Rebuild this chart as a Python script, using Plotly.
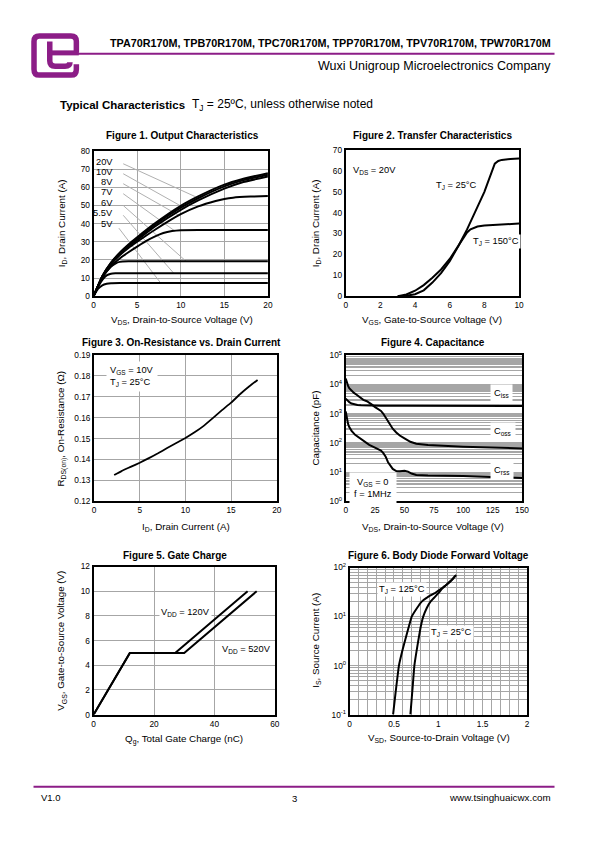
import plotly.graph_objects as go

FONT = "Liberation Sans, Arial, Helvetica, sans-serif"
W, H = 595, 842
PURPLE = "#8c1d87"
GRID = "#a6a6a6"

# ---------------- Figure 1: Output characteristics ----------------
f1_vds_a = [0, 1, 2, 3, 4, 5, 7, 10, 12, 15, 17, 20]
f1_id_20v = [0, 11, 18.5, 24, 28.5, 32.5, 40, 49.8, 55, 61.5, 64.5, 67.8]
f1_id_15v = [0, 11, 18.3, 23.7, 28, 31.8, 39.3, 48.8, 54, 60.5, 63.7, 67]
f1_id_10v = [0, 10.9, 18, 23.3, 27.5, 31, 38.3, 47.6, 52.8, 59.3, 62.7, 66]
f1_vds_8v = [0, 1, 2, 3, 4, 5, 7, 10, 12, 14, 15, 16, 18, 20]
f1_id_8v = [0, 10.8, 17.6, 22.6, 26.6, 30, 36.5, 45.2, 49.5, 52.5, 53.6, 54.3, 54.9, 55.2]
f1_vds_7v = [0, 1, 2, 3, 4, 5, 6, 7, 8, 9, 10, 12, 20]
f1_id_7v = [0, 10.5, 16.5, 20.8, 24.2, 27.3, 30.3, 32.8, 34.8, 35.9, 36.4, 36.5, 36.5]
f1_vds_6v = [0, 0.5, 1, 1.5, 2, 2.5, 3, 4, 20]
f1_id_6v = [0, 5.5, 10, 13.6, 16.3, 18, 18.9, 19.2, 19.3]
f1_vds_55v = [0, 0.5, 1, 1.5, 2, 2.5, 20]
f1_id_55v = [0, 5, 9, 11.5, 12.4, 12.6, 12.7]
f1_vds_5v = [0, 0.5, 1, 1.5, 2, 3, 20]
f1_id_5v = [0, 4, 6, 6.8, 7.1, 7.2, 7.3]
f1_labels = ["20V", "10V", "8V", "7V", "6V", "5.5V", "5V"]
f1_label_y = [74.2, 68.4, 62.7, 57.3, 51.5, 45.7, 39.7]
f1_leader_x0 = [3.4, 3.4, 3.4, 3.4, 3.4, 3.4, 2.9]
f1_leader_y0 = [73, 67.5, 62, 56.5, 50, 44.6, 37.5]
f1_leader_x1 = [11.7, 10.5, 9.8, 9.3, 10.6, 9.2, 7.7]
f1_leader_y1 = [54.8, 48.4, 44.5, 36, 19.3, 12.6, 7.2]

# ---------------- Figure 2: Transfer characteristics ----------------
f2_vgs_25 = [3, 3.5, 4, 4.5, 5, 5.5, 6, 6.5, 7, 7.5, 8, 8.2, 8.4, 8.5, 8.6, 8.8, 9, 9.5, 10]
f2_id_25 = [0, 0.2, 0.9, 2.8, 6.5, 11, 16.8, 24, 32, 41, 50, 54.5, 59.5, 62, 63.5, 64.8, 65.3, 65.7, 66]
f2_vgs_150 = [3, 3.5, 4, 4.5, 5, 5.5, 6, 6.5, 6.8, 7, 7.2, 7.4, 7.6, 8, 9, 10]
f2_id_150 = [0, 0.8, 2.6, 5.3, 8.8, 12.8, 17.8, 24, 28.2, 30.5, 32, 32.9, 33.4, 33.9, 34.4, 34.8]

# ---------------- Figure 3: On-resistance ----------------
f3_id = [2.2, 3, 4, 5, 6, 7, 8, 9, 10, 11, 12, 13, 14, 15, 16, 17, 17.9]
f3_rds = [0.1326, 0.1345, 0.1365, 0.1385, 0.1407, 0.1430, 0.1455, 0.1479, 0.1503,
          0.1530, 0.1561, 0.1598, 0.1636, 0.1672, 0.1713, 0.1750, 0.1780]

# ---------------- Figure 4: Capacitance ----------------
f4_vds_ciss = [0, 1, 2, 3, 5, 7, 10, 13, 16, 20, 30, 50, 100, 150]
f4_ciss = [3300, 3000, 2700, 2500, 2250, 2100, 2000, 1950, 1920, 1900, 1880, 1870, 1860, 1850]
f4_vds_coss = [0, 1, 2, 3, 5, 7, 9, 11, 13, 15, 18, 20, 22, 25, 28, 30, 32, 34, 36, 38, 40,
               43, 46, 50, 55, 60, 70, 100, 150]
f4_coss = [16000, 11000, 9000, 7500, 6000, 5200, 4600, 4000, 3300, 3000, 2700, 2450, 2100,
           1700, 1450, 1250, 1000, 750, 550, 400, 310, 230, 180, 145, 110, 95, 85, 75, 65]
f4_vds_crss = [0, 1, 2, 3, 5, 8, 10, 12, 16, 20, 24, 28, 30, 32, 34, 36, 38, 40, 43, 46, 50,
               53, 56, 60, 70, 100, 150]
f4_crss = [1200, 700, 450, 350, 260, 190, 165, 145, 110, 86, 72, 60, 55, 45, 34, 22, 16, 13,
           11, 10.8, 11.2, 10.5, 9, 8, 7.7, 7.4, 6.3]
f4_ytick_vals = [1, 10, 100, 1000, 10000, 100000]
f4_ytick_text = ["10<sup>0</sup>", "10<sup>1</sup>", "10<sup>2</sup>", "10<sup>3</sup>",
                 "10<sup>4</sup>", "10<sup>5</sup>"]

# ---------------- Figure 5: Gate charge ----------------
f5_qg_120 = [0, 12, 27, 51]
f5_vgs_120 = [0, 5, 5, 10]
f5_qg_520 = [0, 12, 30, 54]
f5_vgs_520 = [0, 5, 5, 10]

# ---------------- Figure 6: Body diode ----------------
f6_vsd_125 = [0.49, 0.52, 0.556, 0.6, 0.65, 0.70, 0.76, 0.81, 0.88, 0.96, 1.03, 1.09, 1.15, 1.2]
f6_is_125 = [0.1, 0.3, 1, 2.2, 4.8, 10, 15, 20, 25, 30, 37, 44, 55, 70]
f6_vsd_25 = [0.685, 0.71, 0.73, 0.77, 0.80, 0.83, 0.87, 0.91, 0.96, 1.0, 1.05, 1.11, 1.16, 1.2]
f6_is_25 = [0.1, 0.35, 1, 2.9, 6, 10, 15, 20, 25, 30, 38, 48, 58, 70]
f6_xtick_vals = [0, 0.5, 1, 1.5, 2]
f6_xtick_text = ["0", "0.5", "1", "1.5", "2"]
f6_ytick_vals = [0.1, 1, 10, 100]
f6_ytick_text = ["10<sup>-1</sup>", "10<sup>0</sup>", "10<sup>1</sup>", "10<sup>2</sup>"]


def px(x):
    return x / W


def py(y):
    return 1 - y / H


def log_minor(lo, hi):
    vals = []
    for e in range(lo, hi):
        for m in range(2, 10):
            vals.append(m * 10 ** e)
    return vals


fig = go.Figure()


def add_line(x, y, xa, ya, width=2, shape="spline", color="black", smoothing=0.4):
    line = dict(color=color, width=width, shape=shape)
    if shape == "spline":
        line["smoothing"] = smoothing
    fig.add_trace(go.Scatter(x=x, y=y, mode="lines", xaxis=xa, yaxis=ya, line=line,
                             showlegend=False, hoverinfo="skip"))


# Figure 1 leader lines
for i in range(len(f1_labels)):
    add_line([f1_leader_x0[i], f1_leader_x1[i]], [f1_leader_y0[i], f1_leader_y1[i]],
             "x", "y", width=1, shape="linear", color="#b0b0b0")
for xs, ys in [(f1_vds_a, f1_id_20v), (f1_vds_a, f1_id_15v), (f1_vds_a, f1_id_10v),
               (f1_vds_8v, f1_id_8v), (f1_vds_7v, f1_id_7v), (f1_vds_6v, f1_id_6v),
               (f1_vds_55v, f1_id_55v), (f1_vds_5v, f1_id_5v)]:
    add_line(xs, ys, "x", "y", smoothing=0.35)

add_line(f2_vgs_25, f2_id_25, "x2", "y2", shape="linear")
add_line(f2_vgs_150, f2_id_150, "x2", "y2", shape="linear")

add_line(f3_id, f3_rds, "x3", "y3", width=1.8, smoothing=0.3)

add_line(f4_vds_ciss, f4_ciss, "x4", "y4", shape="linear")
add_line(f4_vds_coss, f4_coss, "x4", "y4", shape="linear")
add_line(f4_vds_crss, f4_crss, "x4", "y4", shape="linear")

add_line(f5_qg_120, f5_vgs_120, "x5", "y5", shape="linear")
add_line(f5_qg_520, f5_vgs_520, "x5", "y5", shape="linear")

add_line(f6_vsd_125, f6_is_125, "x6", "y6", smoothing=0.3)
add_line(f6_vsd_25, f6_is_25, "x6", "y6", smoothing=0.3)

TICKFONT = dict(family=FONT, size=8.3, color="black")


def axis(dom, anchor, rng, dtick=None, tickvals=None, ticktext=None, grid=True,
         typ="linear", gridwidth=1, tickformat=None, minor=None):
    d = dict(domain=dom, anchor=anchor, range=rng, type=typ, showgrid=grid,
             gridcolor=GRID, gridwidth=gridwidth, showline=True, mirror=True,
             linecolor="black", linewidth=2, zeroline=False, ticks="",
             tickfont=TICKFONT, fixedrange=True)
    if dtick is not None:
        d.update(tick0=0, dtick=dtick)
    if tickvals is not None:
        d.update(tickmode="array", tickvals=tickvals, ticktext=ticktext)
    if tickformat:
        d.update(tickformat=tickformat)
    if minor is not None:
        d["minor"] = minor
    return d


layout = dict(
    autosize=True, margin=dict(l=0, r=0, t=0, b=0, pad=0),
    paper_bgcolor="white", plot_bgcolor="white", showlegend=False,
    font=dict(family=FONT, color="black"),
    xaxis=axis([px(93), px(270)], "y", [0, 20], dtick=5),
    yaxis=axis([py(294), py(147)], "x", [0, 80], dtick=10),
    xaxis2=axis([px(349), px(525)], "y2", [0, 10], dtick=2, grid=False),
    yaxis2=axis([py(294), py(146)], "x2", [0, 70], dtick=10, grid=False),
    xaxis3=axis([px(93.5), px(279)], "y3", [0, 20], dtick=5),
    yaxis3=axis([py(502), py(353.5)], "x3", [0.12, 0.19], dtick=0.01, tickformat=".2f"),
    xaxis4=axis([px(349), px(528)], "y4", [0, 150], dtick=25, grid=False),
    yaxis4=axis([py(502), py(354)], "x4", [0, 5], typ="log", tickvals=f4_ytick_vals,
                ticktext=f4_ytick_text, gridwidth=1.4,
                minor=dict(tickmode="array", tickvals=log_minor(0, 5), showgrid=True,
                           gridcolor=GRID, gridwidth=1.4, ticks="")),
    xaxis5=axis([px(93), px(277)], "y5", [0, 60], dtick=20),
    yaxis5=axis([py(718), py(568)], "x5", [0, 12], dtick=2),
    xaxis6=axis([px(353), px(533)], "y6", [0, 2], tickvals=f6_xtick_vals, ticktext=f6_xtick_text,
                minor=dict(tickmode="linear", tick0=0, dtick=0.1, showgrid=True,
                           gridcolor=GRID, gridwidth=1, ticks="")),
    yaxis6=axis([py(718), py(569)], "x6", [-1, 2], typ="log", tickvals=f6_ytick_vals,
                ticktext=f6_ytick_text,
                minor=dict(tickmode="array", tickvals=log_minor(-1, 2), showgrid=True,
                           gridcolor=GRID, gridwidth=1, ticks="")),
)

anns = []


def ann(text, x, y, size=9.5, xanchor="center", yanchor="middle", angle=0,
        xref="paper", yref="paper", bg=None, pad=1, align="center"):
    a = dict(text=text, x=x, y=y, xref=xref, yref=yref, xanchor=xanchor,
             yanchor=yanchor, showarrow=False, textangle=angle, align=align,
             font=dict(family=FONT, size=size, color="black"), borderpad=pad)
    if bg:
        a["bgcolor"] = bg
    anns.append(a)


# header / footer
ann("<b>TPA70R170M, TPB70R170M, TPC70R170M, TPP70R170M, TPV70R170M, TPW70R170M</b>",
    px(559), py(37), size=10.8, xanchor="right")
ann("Wuxi Unigroup Microelectronics Company", px(559), py(61), size=12.5, xanchor="right")
ann("<b>Typical Characteristics</b>", px(57), py(100), size=11.5, xanchor="left")
ann("T<sub>J</sub> = 25ºC, unless otherwise noted", px(191), py(100), size=12, xanchor="left")
ann("V1.0", px(38), py(802), size=9.5, xanchor="left")
ann("3", px(297), py(803), size=9.5)
ann("www.tsinghuaicwx.com", px(559), py(802), size=9.8, xanchor="right")

# figure titles
ann("<b>Figure 1. Output Characteristics</b>", px(183), py(131), size=10)
ann("<b>Figure 2. Transfer Characteristics</b>", px(437), py(131), size=10)
ann("<b>Figure 3. On-Resistance vs. Drain Current</b>", px(182), py(341), size=10)
ann("<b>Figure 4. Capacitance</b>", px(438), py(341), size=10)
ann("<b>Figure 5. Gate Charge</b>", px(176), py(557), size=10)
ann("<b>Figure 6. Body Diode Forward Voltage</b>", px(443), py(557), size=10)

# axis titles
ann("V<sub>DS</sub>, Drain-to-Source Voltage (V)", px(183), py(318), size=9.8)
ann("I<sub>D</sub>, Drain Current (A)", px(61), py(220), angle=-90, size=9.8)
ann("V<sub>GS</sub>, Gate-to-Source Voltage (V)", px(437), py(318), size=9.8)
ann("I<sub>D</sub>, Drain Current (A)", px(319), py(220), angle=-90, size=9.8)
ann("I<sub>D</sub>, Drain Current (A)", px(187), py(528), size=9.8)
ann("R<sub>DS(on)</sub>, On-Resistance (Ω)", px(60), py(428), angle=-90, size=9.8)
ann("V<sub>DS</sub>, Drain-to-Source Voltage (V)", px(438), py(528), size=9.8)
ann("Capacitance (pF)", px(318), py(428), angle=-90, size=9.8)
ann("Q<sub>g</sub>, Total Gate Charge (nC)", px(185), py(743), size=9.8)
ann("V<sub>GS</sub>, Gate-to-Source Voltage (V)", px(60), py(643), angle=-90, size=9.8)
ann("V<sub>SD</sub>, Source-to-Drain Voltage (V)", px(444), py(742), size=9.8)
ann("I<sub>S</sub>, Source Current (A)", px(318), py(643), angle=-90, size=9.8)

# in-plot labels
for lab, yv in zip(f1_labels, f1_label_y):
    ann(lab, 2.4, yv, size=9.3, xanchor="right", xref="x", yref="y")
ann("V<sub>DS</sub> = 20V", 0.3, 60, size=9.3, xanchor="left", xref="x2", yref="y2", bg="white")
ann("T<sub>J</sub> = 25°C", 5.1, 53, size=9.3, xanchor="left", xref="x2", yref="y2", bg="white")
ann("T<sub>J</sub> = 150°C", 7.2, 26, size=9.3, xanchor="left", xref="x2", yref="y2", bg="white")
ann("V<sub>GS</sub> = 10V<br>T<sub>J</sub> = 25°C", 1.3, 0.1795, size=9.3, xanchor="left",
    xref="x3", yref="y3", bg="white", pad=3, align="left")
ann("C<sub>iss</sub>", 122.5, 3.70, size=9.3, xanchor="left", xref="x4", yref="y4", bg="white", pad=3)
ann("C<sub>oss</sub>", 122.5, 2.38, size=9.3, xanchor="left", xref="x4", yref="y4", bg="white", pad=3)
ann("C<sub>rss</sub>", 122.5, 1.07, size=9.3, xanchor="left", xref="x4", yref="y4", bg="white", pad=3)
ann("V<sub>GS</sub> = 0<br>f = 1MHz", 23, 0.46, size=9.3, xref="x4", yref="y4", bg="white", pad=4)
ann("V<sub>DD</sub> = 120V", 21.7, 8.25, size=9.3, xanchor="left", xref="x5", yref="y5", bg="white")
ann("V<sub>DD</sub> = 520V", 41.8, 5.25, size=9.3, xanchor="left", xref="x5", yref="y5", bg="white")
ann("T<sub>J</sub> = 125°C", 0.31, 1.56, size=9.3, xanchor="left", xref="x6", yref="y6", bg="white")
ann("T<sub>J</sub> = 25°C", 0.89, 0.68, size=9.3, xanchor="left", xref="x6", yref="y6", bg="white")

layout["annotations"] = anns


def path(cmds):
    out = []
    for c in cmds:
        if isinstance(c, str):
            out.append(c)
        else:
            out.append("%.5f,%.5f" % (px(c[0]), py(c[1])))
    return " ".join(out)


logo_outer = path(["M", (75.5, 47), "L", (75.5, 36), "Q", (75.5, 30.5), (70, 30.5), "L", (38, 30.5),
                   "Q", (32.5, 30.5), (32.5, 36), "L", (32.5, 64), "Q", (32.5, 70), (38, 70),
                   "L", (70, 70), "Q", (75.5, 70), (75.5, 64), "L", (75.5, 59)])
logo_t = path(["M", (48.5, 36), "L", (48.5, 55.5), "Q", (48.5, 61), (54, 61), "L", (64, 61),
               "Q", (69, 61), (69, 57)])
shapes = [
    dict(type="path", xref="paper", yref="paper", path=logo_outer,
         line=dict(color=PURPLE, width=5.5)),
    dict(type="path", xref="paper", yref="paper", path=logo_t,
         line=dict(color=PURPLE, width=5.5)),
    dict(type="line", xref="paper", yref="paper", x0=px(48.5), x1=px(78), y0=py(47.5), y1=py(47.5),
         line=dict(color=PURPLE, width=5)),
    dict(type="line", xref="paper", yref="paper", x0=px(76), x1=px(561), y0=py(48.3), y1=py(48.3),
         line=dict(color=PURPLE, width=2)),
    dict(type="line", xref="paper", yref="paper", x0=px(32), x1=px(561), y0=py(791), y1=py(791),
         line=dict(color=PURPLE, width=2)),
]
layout["shapes"] = shapes

fig.update_layout(**layout)
fig.write_html("out.html", config={"displayModeBar": False, "staticPlot": True},
               default_width="100vw", default_height="100vh",
               post_script="document.body.style.margin='0';document.body.style.overflow='hidden';")
